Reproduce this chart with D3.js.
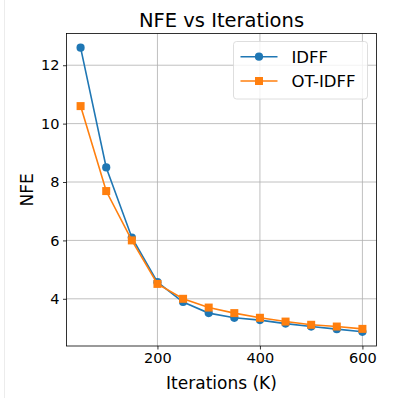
<!DOCTYPE html>
<html lang="en">
<head>
    <meta charset="UTF-8">
    <title>NFE vs Iterations</title>
    <script src="https://d3js.org/d3.v7.min.js"></script>
    <style>
        body {
            margin: 0;
            font-family: "DejaVu Sans", sans-serif;
            background: #fff;
        }
        .line {
            fill: none;
            stroke-width: 1.6;
        }
        .grid line {
            stroke: #b0b0b0;
            stroke-width: 0.8;
        }
    </style>
</head>
<body>
    <svg width="402" height="399"></svg>

    <script>
        const iterations = [50, 100, 150, 200, 250, 300, 350, 400, 450, 500, 550, 600];
        const idff = [12.6, 8.5, 6.1, 4.57, 3.89, 3.51, 3.35, 3.27, 3.15, 3.05, 2.96, 2.87];
        const otIdff = [10.6, 7.69, 6.0, 4.51, 4.0, 3.7, 3.51, 3.35, 3.22, 3.11, 3.05, 2.97];
        const xTicks = [200, 400, 600];
        const yTicks = [4, 6, 8, 10, 12];

        const margin = { top: 33.5, right: 25.5, bottom: 53, left: 66.5 };
        const width = 402 - margin.left - margin.right;
        const height = 399 - margin.top - margin.bottom;

        const root = d3.select("svg");

        // faint figure edge
        root.append("line")
            .attr("x1", 4.5).attr("x2", 4.5)
            .attr("y1", 0).attr("y2", 398)
            .attr("stroke", "#ececec");

        const svg = root.append("g")
            .attr("transform", `translate(${margin.left}, ${margin.top})`);

        const xPad = (600 - 50) * 0.05;
        const x = d3.scaleLinear().range([0, width])
            .domain([50 - xPad, 600 + xPad]);

        const allY = idff.concat(otIdff);
        const yMin = d3.min(allY), yMax = d3.max(allY);
        const yPad = (yMax - yMin) * 0.05;
        const y = d3.scaleLinear().range([height, 0])
            .domain([yMin - yPad, yMax + yPad]);

        // grid
        svg.append("g").attr("class", "grid")
            .selectAll("line").data(xTicks).join("line")
            .attr("x1", d => x(d)).attr("x2", d => x(d))
            .attr("y1", 0).attr("y2", height);
        svg.append("g").attr("class", "grid")
            .selectAll("line").data(yTicks).join("line")
            .attr("x1", 0).attr("x2", width)
            .attr("y1", d => y(d)).attr("y2", d => y(d));

        const xAxis = svg.append("g")
            .attr("transform", `translate(0,${height})`)
            .call(d3.axisBottom(x).tickValues(xTicks).tickSize(3.5).tickPadding(3.5).tickSizeOuter(0));
        const yAxis = svg.append("g")
            .call(d3.axisLeft(y).tickValues(yTicks).tickSize(3.5).tickPadding(3.5).tickSizeOuter(0));
        [xAxis, yAxis].forEach(a => {
            a.select(".domain").remove();
            a.selectAll("text").attr("font-size", "14.5px").attr("fill", "#000")
                .attr("font-family", "DejaVu Sans");
            a.selectAll("line").attr("stroke", "#000").attr("stroke-width", 0.8);
        });

        // frame
        svg.append("rect")
            .attr("width", width).attr("height", height)
            .attr("fill", "none").attr("stroke", "#000").attr("stroke-width", 0.8);

        const line = d3.line()
            .x((d, i) => x(iterations[i]))
            .y(d => y(d));

        svg.append("path")
            .datum(idff)
            .attr("class", "line")
            .attr("d", line)
            .style("stroke", "#1f77b4");
        svg.append("g").selectAll("circle").data(idff).join("circle")
            .attr("cx", (d, i) => x(iterations[i]))
            .attr("cy", d => y(d))
            .attr("r", 4.1)
            .attr("fill", "#1f77b4");

        svg.append("path")
            .datum(otIdff)
            .attr("class", "line")
            .attr("d", line)
            .style("stroke", "#ff7f0e");
        svg.append("g").selectAll("rect").data(otIdff).join("rect")
            .attr("x", (d, i) => x(iterations[i]) - 4)
            .attr("y", d => y(d) - 4)
            .attr("width", 8).attr("height", 8)
            .attr("fill", "#ff7f0e");

        // title and labels
        root.append("text")
            .attr("x", margin.left + width / 2).attr("y", 26.5)
            .attr("text-anchor", "middle")
            .attr("font-size", "19.5px")
            .text("NFE vs Iterations");
        root.append("text")
            .attr("x", margin.left + width / 2).attr("y", 389)
            .attr("text-anchor", "middle")
            .attr("font-size", "17px")
            .text("Iterations (K)");
        root.append("text")
            .attr("transform", `translate(33, ${margin.top + height / 2}) rotate(-90)`)
            .attr("text-anchor", "middle")
            .attr("font-size", "17px")
            .text("NFE");

        // legend
        const legend = root.append("g").attr("transform", "translate(233.5, 41.5)");
        legend.append("rect")
            .attr("width", 134).attr("height", 57.5)
            .attr("rx", 3)
            .attr("fill", "#fff").attr("fill-opacity", 0.8)
            .attr("stroke", "#d6d6d6").attr("stroke-width", 0.8);
        const entries = [
            { name: "IDFF", color: "#1f77b4", shape: "circle" },
            { name: "OT-IDFF", color: "#ff7f0e", shape: "square" }
        ];
        entries.forEach((e, i) => {
            const g = legend.append("g").attr("transform", `translate(0, ${15.2 + i * 24.3})`);
            g.append("line").attr("x1", 7).attr("x2", 44)
                .attr("stroke", e.color).attr("stroke-width", 1.6);
            if (e.shape === "circle") {
                g.append("circle").attr("cx", 25.5).attr("r", 4.1).attr("fill", e.color);
            } else {
                g.append("rect").attr("x", 21.5).attr("y", -4).attr("width", 8).attr("height", 8)
                    .attr("fill", e.color);
            }
            g.append("text").attr("x", 58).attr("y", 6)
                .attr("font-size", "16.5px")
                .text(e.name);
        });
    </script>
</body>
</html>
